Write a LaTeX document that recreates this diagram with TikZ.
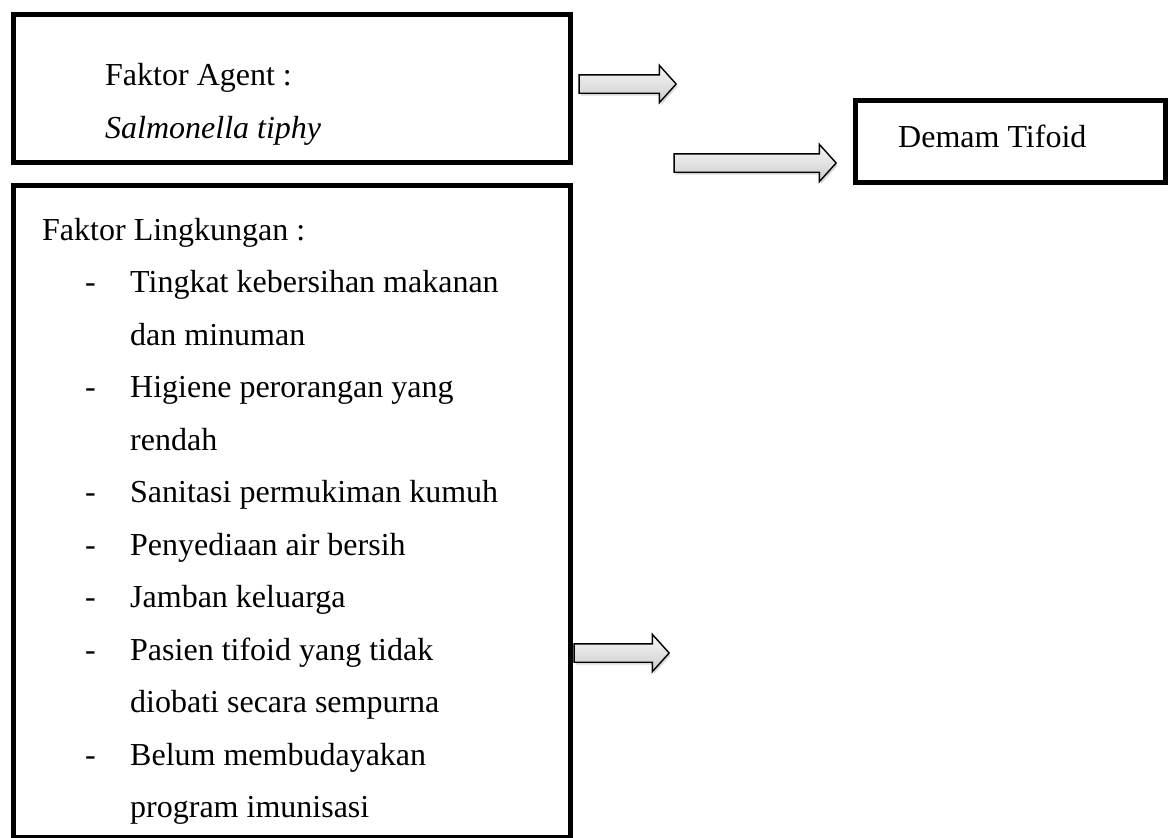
\documentclass[tikz,border=0pt]{standalone}
\usepackage{fontspec}
\setmainfont{Liberation Serif}
\usetikzlibrary{shapes.arrows,shadows}

\tikzset{
  faktorbox/.style={draw, line width=4.6pt, anchor=north west, inner sep=0pt},
  itemtext/.style={anchor=base west, inner sep=0pt},
  blockarrow/.style={single arrow, draw, line width=1.4pt, inner xsep=0pt, inner ysep=8.5pt,
    single arrow head extend=9.5pt, single arrow tip angle=96,
    top color=gray!6, bottom color=gray!40,
    drop shadow={opacity=0.3, shadow xshift=1.5pt, shadow yshift=-2.5pt}}
}

\begin{document}
\begin{tikzpicture}[x=1pt, y=-1pt, font=\fontsize{32}{38}\selectfont]
            \useasboundingbox (0,0) rectangle (1168,838);
            % kotak
            \node[faktorbox, minimum width=557, minimum height=148] (agent) at (11,12) {};
            \node[faktorbox, minimum width=557, minimum height=652] (lingkungan) at (11,183) {};
            \node[faktorbox, minimum width=310, minimum height=82] (demam) at (853,98) {};
            % teks
            \node[itemtext] (agentjudul) at (105,85) {Faktor Agent :};
            \node[itemtext] (agentisi) at (105,138) {\itshape Salmonella tiphy};
            \node[itemtext] (demamisi) at (898,147) {Demam Tifoid};
            \node[itemtext] (lingjudul) at (42,240) {Faktor Lingkungan :};
            \node[itemtext] (strip1) at (85,292.5) {-};
            \node[itemtext] (item1) at (130,292.5) {Tingkat kebersihan makanan};
            \node[itemtext] (item1b) at (130,345) {dan minuman};
            \node[itemtext] (strip2) at (85,397.5) {-};
            \node[itemtext] (item2) at (130,397.5) {Higiene perorangan yang};
            \node[itemtext] (item2b) at (130,450) {rendah};
            \node[itemtext] (strip3) at (85,502.5) {-};
            \node[itemtext] (item3) at (130,502.5) {Sanitasi permukiman kumuh};
            \node[itemtext] (strip4) at (85,555) {-};
            \node[itemtext] (item4) at (130,555) {Penyediaan air bersih};
            \node[itemtext] (strip5) at (85,607.5) {-};
            \node[itemtext] (item5) at (130,607.5) {Jamban keluarga};
            \node[itemtext] (strip6) at (85,660) {-};
            \node[itemtext] (item6) at (130,660) {Pasien tifoid yang tidak};
            \node[itemtext] (item6b) at (130,712.5) {diobati secara sempurna};
            \node[itemtext] (strip7) at (85,765) {-};
            \node[itemtext] (item7) at (130,765) {Belum membudayakan};
            \node[itemtext] (item7b) at (130,817.5) {program imunisasi};
            % panah
            \node[blockarrow, minimum height=97] (panahagent) at (623.5,84) {};
            \node[blockarrow, minimum height=162] (panahdemam) at (751,163) {};
            \node[blockarrow, minimum height=95] (panahling) at (617.5,653) {};
        \end{tikzpicture}
\end{document}
